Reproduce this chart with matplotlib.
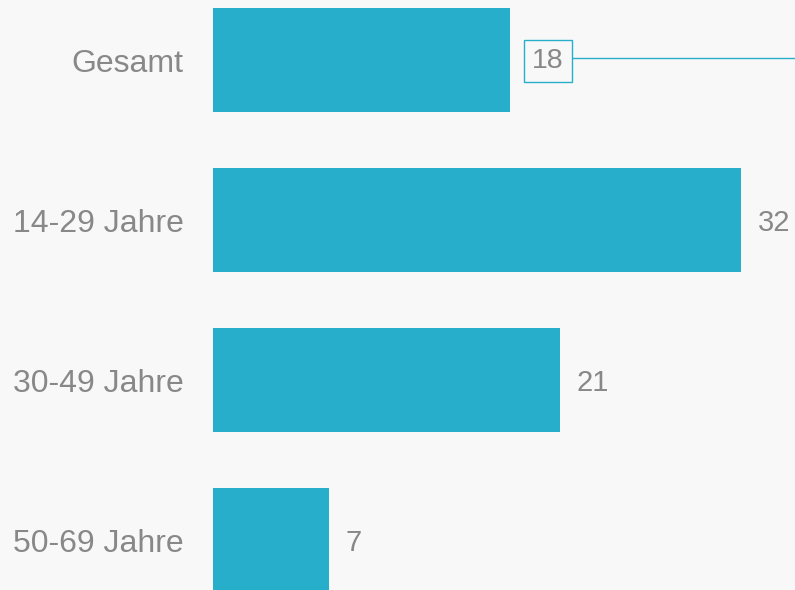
import matplotlib.pyplot as plt

categories = ["Gesamt", "14-29 Jahre", "30-49 Jahre", "50-69 Jahre"]
values = [18, 32, 21, 7]

BAR_COLOR = "#27aecb"
TEXT_COLOR = "#888888"
BG = "#f8f8f8"

plt.rcParams["font.family"] = ["Liberation Sans", "DejaVu Sans"]

fig = plt.figure(figsize=(7.95, 5.9), dpi=100, facecolor=BG)
ax = fig.add_axes([213 / 795, 0, 582 / 795, 1])
ax.set_facecolor(BG)

y = list(range(len(categories)))
ax.barh(y, values, height=0.65, color=BAR_COLOR)

ax.set_xlim(0, 582 / 16.5)
ax.set_ylim(3.3125, -0.375)
ax.set_yticks(y)
ax.set_yticklabels(categories, fontsize=23, color=TEXT_COLOR, va="center_baseline")
ax.tick_params(axis="y", length=0, pad=21)
ax.set_xticks([])
for s in ax.spines.values():
    s.set_visible(False)

for i, v in enumerate(values):
    if i == 0:
        ax.annotate(str(v), xy=(v, i), xytext=(16, -1), textcoords="offset points",
                    fontsize=20.5, color=TEXT_COLOR, va="center", ha="left",
                    bbox=dict(boxstyle="square,pad=0.28", fc=BG, ec=BAR_COLOR, lw=1))
    else:
        ax.annotate(str(v), xy=(v, i), xytext=(12, 0), textcoords="offset points",
                    fontsize=21, color=TEXT_COLOR, va="center_baseline", ha="left")

# reference line from the Gesamt box to the right edge
ax.plot([(572 - 213) / 16.5, 582 / 16.5], [-0.01, -0.01], color=BAR_COLOR, lw=1, clip_on=False)

fig.savefig("out.png", dpi=100, facecolor=BG)
